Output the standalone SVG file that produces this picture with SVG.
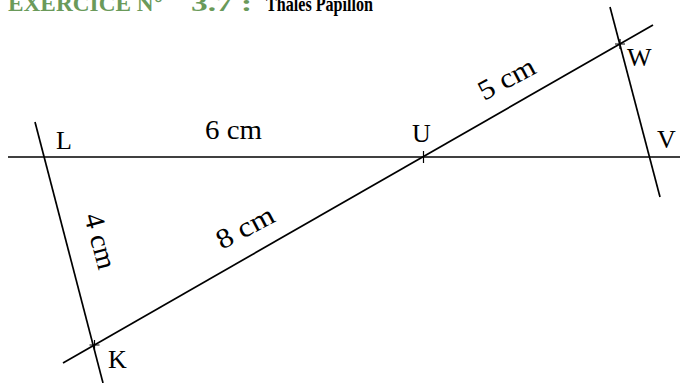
<svg xmlns="http://www.w3.org/2000/svg" width="680" height="383" viewBox="0 0 680 383">
<style>
.ln{stroke:#000;stroke-width:1.7;fill:none}
.tk{stroke:#000;stroke-width:1.2;fill:none}
.lb{font-family:"Liberation Serif",serif;font-size:26px;fill:#000}
.cm{font-family:"Liberation Serif",serif;font-size:28px;fill:#000}
.tg{font-family:"Liberation Serif",serif;font-weight:bold;font-size:24px;fill:#6a9a5a}
.tb{font-family:"Liberation Serif",serif;font-weight:bold;font-size:22px;fill:#000}
</style>
<rect width="680" height="383" fill="#fff"/>
<g id="title">
<text class="tg" x="8" y="11" textLength="155" lengthAdjust="spacingAndGlyphs">EXERCICE N°</text>
<text class="tg" x="191" y="11" font-size="27" textLength="61" lengthAdjust="spacingAndGlyphs">3.7 :</text>
<text class="tb" x="266" y="11" textLength="107" lengthAdjust="spacingAndGlyphs">Thales Papillon</text>
</g>
<g id="connectors">
<line class="ln" x1="8" y1="157" x2="680" y2="157"/>
<line class="ln" x1="35" y1="122" x2="103" y2="383"/>
<line class="ln" x1="63" y1="363" x2="653" y2="25"/>
<line class="ln" x1="610" y1="7" x2="660" y2="197"/>
</g>
<g id="L"><text class="lb" x="56" y="149">L</text></g>
<g id="U"><path class="tk" d="M423.5 151V163"/><text class="lb" x="412" y="142">U</text></g>
<g id="V"><text class="lb" x="657" y="148">V</text></g>
<g id="W"><path class="tk" d="M620 39V49M615 44H625"/><text class="lb" x="627" y="66">W</text></g>
<g id="K"><path class="tk" d="M94.5 340V350M89.5 345H99.5"/><text class="lb" x="108" y="368">K</text></g>
<g id="labels">
<text class="cm" x="205" y="139" textLength="57" lengthAdjust="spacingAndGlyphs">6 cm</text>
<text class="cm" transform="translate(484,101) rotate(-28)" textLength="61" lengthAdjust="spacingAndGlyphs">5 cm</text>
<text class="cm" transform="translate(222,250) rotate(-28)" textLength="62" lengthAdjust="spacingAndGlyphs">8 cm</text>
<text class="cm" transform="translate(84,216) rotate(75)" textLength="57" lengthAdjust="spacingAndGlyphs">4 cm</text>
</g>
</svg>
